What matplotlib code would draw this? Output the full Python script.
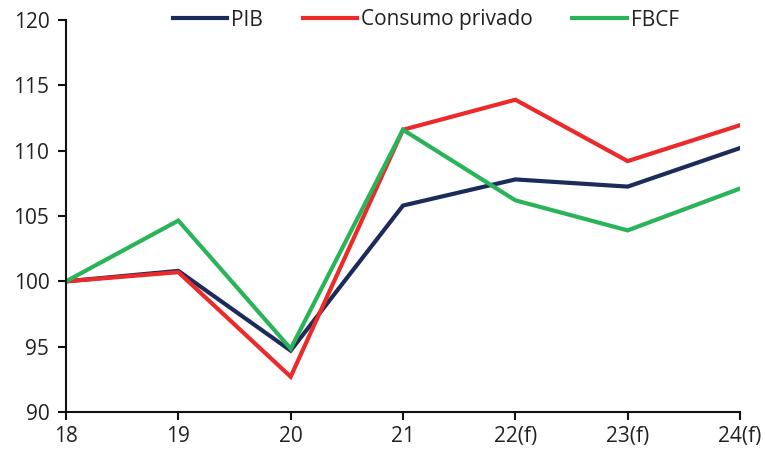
import matplotlib
matplotlib.use("Agg")
import matplotlib.pyplot as plt

categories = ["18", "19", "20", "21", "22(f)", "23(f)", "24(f)"]
pib = [100.0, 100.8, 94.7, 105.8, 107.8, 107.25, 110.2]
consumo = [100.0, 100.7, 92.7, 111.6, 113.9, 109.2, 111.95]
fbcf = [100.0, 104.65, 94.85, 111.6, 106.2, 103.9, 107.1]
yticks = [90, 95, 100, 105, 110, 115, 120]

plt.rcParams['font.family'] = ['Open Sans', 'DejaVu Sans']

fig = plt.figure(figsize=(7.65, 4.53), dpi=100)
ax = fig.add_axes([66/765, 1 - 412/453, (740-66)/765, (412-20)/453])

x = list(range(len(categories)))
ax.plot(x, pib, color="#1c2b5a", lw=3.0, label="PIB", solid_joinstyle="miter")
ax.plot(x, consumo, color="#ec2a2a", lw=3.0, label="Consumo privado", solid_joinstyle="miter")
ax.plot(x, fbcf, color="#2ab459", lw=3.0, label="FBCF", solid_joinstyle="miter")

ax.set_xlim(0, len(categories) - 1)
ax.set_ylim(90, 120)
ax.set_xticks(x)
ax.set_xticklabels(categories)
ax.set_yticks(yticks)
for s in ["top", "right"]:
    ax.spines[s].set_visible(False)
for s in ["left", "bottom"]:
    ax.spines[s].set_linewidth(1.5)
    ax.spines[s].set_color("#111111")
ax.tick_params(axis="both", labelsize=15, length=6, width=1.5, color="#111111", labelcolor="#222222")
ax.tick_params(axis="y", pad=6)
ax.tick_params(axis="x", pad=4)

leg = ax.legend(loc="center", bbox_to_anchor=(0.534, 1.0), ncol=3, frameon=False,
                fontsize=15, handlelength=2.6, handletextpad=0.2, columnspacing=1.9,
                labelcolor="#222222", borderpad=0, borderaxespad=0)

fig.savefig("out.png", dpi=100)
